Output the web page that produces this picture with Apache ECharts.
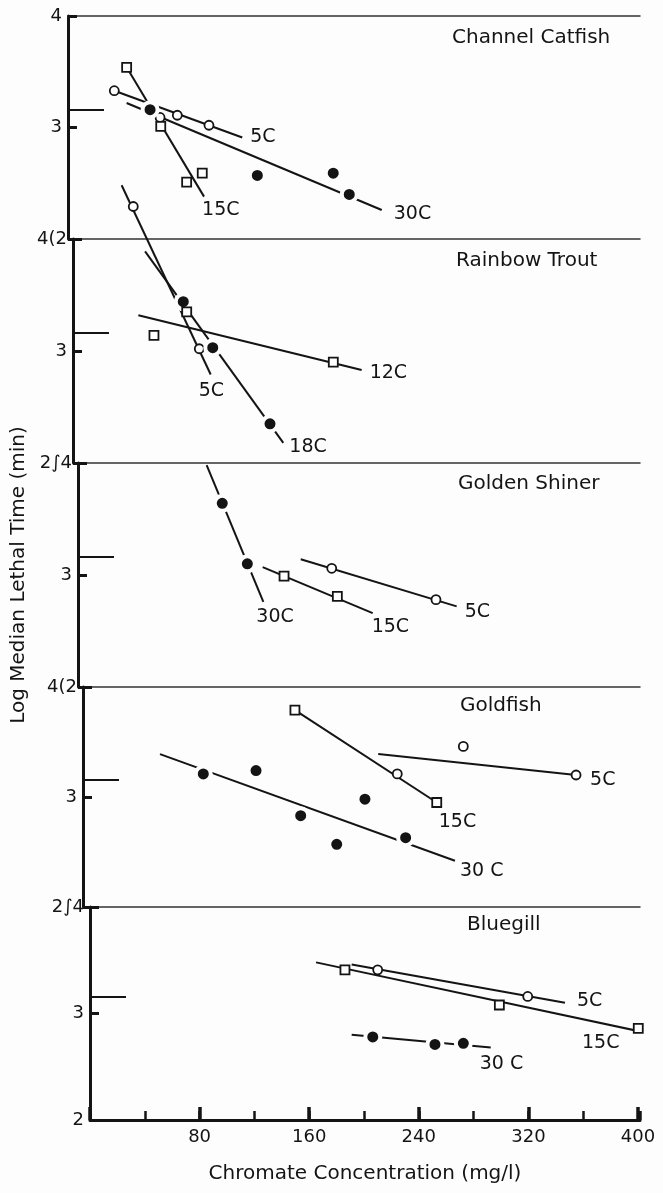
<!DOCTYPE html>
<html>
<head>
<meta charset="utf-8">
<script src="https://cdn.jsdelivr.net/npm/echarts@6.0.0/dist/echarts.min.js"></script>
<style>
html, body { margin: 0; padding: 0; background: #fdfdfd; }
#main { width: 663px; height: 1193px; }
</style>
</head>
<body>
<div id="main"></div>
<script>
// x = chromate concentration (mg/l), y = log median lethal time (min)
const panelNames = ['Channel Catfish', 'Rainbow Trout', 'Golden Shiner', 'Goldfish', 'Bluegill']
const topTickLabels = ['4', '4(2', '2\u222B4', '4(2', '2\u222B4']
const xTickLabels = [80, 160, 240, 320, 400]
const dayTick = [3.16]

// Channel Catfish
const catfish5C = [[33.8, 3.33], [67.2, 3.09], [79.8, 3.11], [102.9, 3.02]]
const catfish5CFit = [[33.8, 3.33], [127.2, 2.91]]
const catfish15C = [[42.8, 3.54], [67.7, 3.01], [86.6, 2.51], [98.0, 2.59]]
const catfish15CFit = [[42.8, 3.54], [99.3, 2.38]]
const catfish30C = [[59.9, 3.16], [138.2, 2.57], [193.6, 2.59], [205.3, 2.40]]
const catfish30CFit = [[42.8, 3.22], [229.0, 2.26]]

// Rainbow Trout
const trout5C = [[44.0, 4.29], [92.2, 3.02]]
const trout5CFit = [[35.5, 4.48], [100.5, 2.79]]
const trout18C = [[80.5, 3.44], [102.0, 3.03], [143.8, 2.35]]
const trout18CFit = [[52.6, 3.89], [153.5, 2.18]]
const trout12C = [[59.1, 3.14], [83.0, 3.35], [190.0, 2.90]]
const trout12CFit = [[47.7, 3.32], [210.7, 2.83]]

// Golden Shiner
const shiner30C = [[105.3, 3.64], [123.6, 3.10]]
const shiner30CFit = [[93.9, 3.98], [135.3, 2.76]]
const shiner15C = [[150.4, 2.99], [189.3, 2.81]]
const shiner15CFit = [[134.8, 3.07], [215.1, 2.66]]
const shiner5C = [[185.2, 3.06], [261.3, 2.78]]
const shiner5CFit = [[162.6, 3.14], [276.4, 2.72]]

// Goldfish
const goldfish5C = [[229.4, 3.21], [277.6, 3.46], [359.9, 3.20]]
const goldfish5CFit = [[215.5, 3.39], [359.9, 3.20]]
const goldfish15C = [[154.7, 3.79], [258.2, 2.95]]
const goldfish15CFit = [[154.7, 3.79], [258.2, 2.95]]
const goldfish30C = [[87.8, 3.21], [126.3, 3.24], [158.9, 2.83], [185.2, 2.57], [205.8, 2.98], [235.5, 2.63]]
const goldfish30CFit = [[56.2, 3.39], [271.5, 2.42]]

// Bluegill
const bluegill5C = [[210.0, 3.41], [319.5, 3.16]]
const bluegill5CFit = [[191.0, 3.46], [346.7, 3.10]]
const bluegill15C = [[186.1, 3.41], [298.8, 3.08], [400.2, 2.86]]
const bluegill15CFit = [[165.0, 3.48], [413.1, 2.80]]
const bluegill30C = [[206.4, 2.78], [251.8, 2.71], [272.5, 2.72]]
const bluegill30CFit = [[191.0, 2.80], [292.5, 2.68]]

const panels = [
    [
        { name: '5C', sym: 'open', pts: catfish5C, fit: catfish5CFit, off: [8, 0] },
        { name: '15C', sym: 'square', pts: catfish15C, fit: catfish15CFit, off: [-2, 13] },
        { name: '30C', sym: 'filled', pts: catfish30C, fit: catfish30CFit, off: [12, 4] }
    ],
    [
        { name: '5C', sym: 'open', pts: trout5C, fit: trout5CFit, off: [-12, 17] },
        { name: '18C', sym: 'filled', pts: trout18C, fit: trout18CFit, off: [6, 4] },
        { name: '12C', sym: 'square', pts: trout12C, fit: trout12CFit, off: [8, 3] }
    ],
    [
        { name: '30C', sym: 'filled', pts: shiner30C, fit: shiner30CFit, off: [-7, 15] },
        { name: '15C', sym: 'square', pts: shiner15C, fit: shiner15CFit, off: [-1, 14] },
        { name: '5C', sym: 'open', pts: shiner5C, fit: shiner5CFit, off: [8, 6] }
    ],
    [
        { name: '5C', sym: 'open', pts: goldfish5C, fit: goldfish5CFit, off: [14, 5] },
        { name: '15C', sym: 'square', pts: goldfish15C, fit: goldfish15CFit, off: [2, 20] },
        { name: '30 C', sym: 'filled', pts: goldfish30C, fit: goldfish30CFit, off: [5, 10] }
    ],
    [
        { name: '5C', sym: 'open', pts: bluegill5C, fit: bluegill5CFit, off: [12, -2] },
        { name: '15C', sym: 'square', pts: bluegill15C, fit: bluegill15CFit, off: [-59, 11] },
        { name: '30 C', sym: 'filled', pts: bluegill30C, fit: bluegill30CFit, off: [-11, 16] }
    ]
]

// layout (pixels)
const pxPerUnit = 1.37
const tops = [16, 239, 463, 687, 907]
const bottoms = [239, 463, 687, 907, 1120]
const lefts = [68, 73, 78, 83, 90]
const rightEdge = 640
const titlePos = [[447, 23], [451, 246], [453, 469], [455, 691], [462, 910]]

const ink = '#141414'
const paper = '#fdfdfd'
const font = 'DejaVu Sans'

const symbolStyle = {
    open: { symbol: 'circle', symbolSize: 9, itemStyle: { color: '#fff', borderColor: ink, borderWidth: 1.8, opacity: 1 } },
    square: { symbol: 'rect', symbolSize: 9, itemStyle: { color: '#fff', borderColor: ink, borderWidth: 1.8, opacity: 1 } },
    filled: { symbol: 'circle', symbolSize: 15, itemStyle: { color: ink, borderColor: paper, borderWidth: 4, opacity: 1 } }
}

const grids = []
const xAxes = []
const yAxes = []
const series = []
const titles = []

panels.forEach((groups, i) => {
    const xMax = (rightEdge - lefts[i]) / pxPerUnit
    grids.push({ left: lefts[i], top: tops[i], width: rightEdge - lefts[i], height: bottoms[i] - tops[i] })
    xAxes.push({
        gridIndex: i, type: 'value', position: 'top', min: 0, max: xMax,
        axisLine: { show: true, lineStyle: { color: '#333', width: 1.5 } },
        axisTick: { show: false }, axisLabel: { show: false }, splitLine: { show: false }
    })
    yAxes.push({
        gridIndex: i, type: 'value', position: 'left', min: 2, max: 4, interval: 1,
        axisLine: { show: true, lineStyle: { color: ink, width: 3 } },
        axisTick: { show: true, inside: true, length: 9, lineStyle: { color: ink, width: 3 } },
        axisLabel: {
            margin: 6, color: ink, fontSize: 18, fontFamily: font,
            formatter: v => v === 4 ? topTickLabels[i] : (v === 3 ? '3' : (i === 4 ? '2' : ''))
        },
        splitLine: { show: false },
        name: i === 2 ? 'Log Median Lethal Time (min)' : '',
        nameLocation: 'middle', nameGap: 46,
        nameTextStyle: { color: ink, fontSize: 20, fontFamily: font }
    })
    // 1 day mark
    yAxes.push({
        gridIndex: i, type: 'value', position: 'left', min: 2, max: 4,
        axisLine: { show: false },
        axisTick: { show: true, inside: true, length: 36, customValues: dayTick, lineStyle: { color: ink, width: 2 } },
        axisLabel: { show: false }, splitLine: { show: false }
    })
    titles.push({
        text: panelNames[i], left: titlePos[i][0], top: titlePos[i][1],
        textStyle: { color: ink, fontSize: 20, fontWeight: 'normal', fontFamily: font }
    })
    groups.forEach(g => {
        series.push({
            type: 'line', xAxisIndex: i, yAxisIndex: 2 * i, data: g.fit, clip: false,
            symbol: 'none', z: 2,
            lineStyle: { color: ink, width: 2 },
            endLabel: {
                show: true, formatter: g.name, distance: 0, offset: g.off,
                align: 'left', verticalAlign: 'middle',
                color: ink, fontSize: 19, fontFamily: font
            }
        })
        series.push(Object.assign({
            type: 'scatter', xAxisIndex: i, yAxisIndex: 2 * i, data: g.pts, clip: false, z: 3
        }, symbolStyle[g.sym]))
    })
})

// bottom axis of last panel: labelled major ticks + minor ticks
const lastMax = (rightEdge - lefts[4]) / pxPerUnit
xAxes.push({
    gridIndex: 4, type: 'value', position: 'bottom', min: 0, max: lastMax, interval: 80,
    axisLine: { show: true, lineStyle: { color: ink, width: 3 } },
    axisTick: { show: true, inside: true, length: 13, lineStyle: { color: ink, width: 3.5 } },
    axisLabel: {
        margin: 8, color: ink, fontSize: 18, fontFamily: font, showMaxLabel: false,
        formatter: v => xTickLabels.indexOf(Math.round(v)) >= 0 ? String(Math.round(v)) : ''
    },
    splitLine: { show: false },
    name: 'Chromate Concentration (mg/l)', nameLocation: 'middle', nameGap: 44,
    nameTextStyle: { color: ink, fontSize: 20, fontFamily: font }
})
xAxes.push({
    gridIndex: 4, type: 'value', position: 'bottom', min: 0, max: lastMax, interval: 40,
    axisLine: { show: false },
    axisTick: { show: true, inside: true, length: 9, lineStyle: { color: ink, width: 2.5 } },
    axisLabel: { show: false }, splitLine: { show: false }
})

const chart = echarts.init(document.getElementById('main'))
chart.setOption({
    animation: false,
    backgroundColor: paper,
    title: titles,
    grid: grids,
    xAxis: xAxes,
    yAxis: yAxes,
    series: series
})
</script>
</body>
</html>
